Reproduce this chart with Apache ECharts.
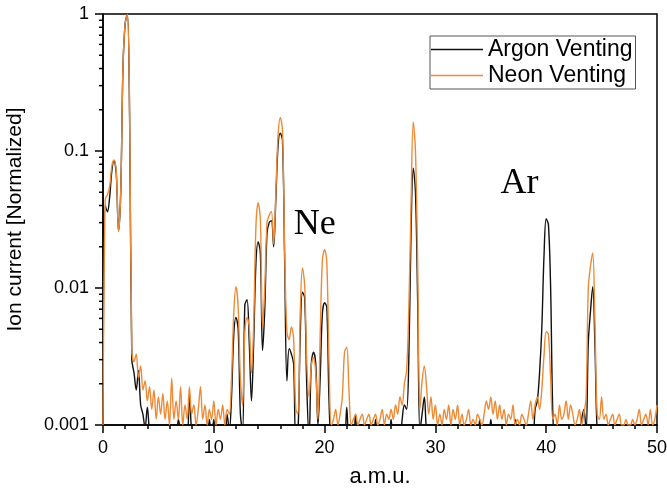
<!DOCTYPE html>
<html>
<head>
<meta charset="utf-8">
<title>Ion current vs a.m.u.</title>
<script src="https://cdn.jsdelivr.net/npm/echarts@6/dist/echarts.min.js"></script>
<style>
  html, body { margin: 0; padding: 0; background: #fff; }
  #chart { width: 667px; height: 490px; }
</style>
</head>
<body>
<div id="chart"></div>
<script>
// Mass scan sampled every 0.2 a.m.u. from 0 to 50
const AMU_STEP = 0.2;

// Normalized ion current, Argon venting (one row per a.m.u.)
const argonVenting = [
  0.001, 0.04, 0.036, 0.046, 0.072,
  0.085, 0.068, 0.026, 0.05, 0.4,
  0.85, 1.0, 0.18, 0.003, 0.0024,
  0.0018, 0.0025, 0.0014, 0.0012, 0.00095,
  0.00135, 0.0009, 0.0008, 0.0008, 0.0008,
  0.0008, 0.0008, 0.0008, 0.0008, 0.0008,
  0.0008, 0.0008, 0.0008, 0.0008, 0.0011,
  0.0009, 0.0008, 0.0008, 0.0008, 0.0017,
  0.0009, 0.0008, 0.0008, 0.0008, 0.0008,
  0.0008, 0.0008, 0.0008, 0.0011, 0.0008,
  0.0011, 0.0008, 0.0008, 0.0008, 0.0008,
  0.0008, 0.0012, 0.0009, 0.0016, 0.0045,
  0.0061, 0.005, 0.0012, 0.0009, 0.0075,
  0.0082, 0.004, 0.0015, 0.004, 0.015,
  0.0217, 0.018, 0.0035, 0.007, 0.025,
  0.03, 0.031, 0.02, 0.045, 0.11,
  0.135, 0.12, 0.015, 0.0021, 0.0036,
  0.0033, 0.0028, 0.0008, 0.0009, 0.0045,
  0.0093, 0.0085, 0.0018, 0.0008, 0.0028,
  0.0034, 0.0028, 0.001, 0.0022, 0.0065,
  0.0078, 0.0072, 0.0015, 0.0008, 0.0008,
  0.0008, 0.0008, 0.0008, 0.0008, 0.0008,
  0.00135, 0.0008, 0.0008, 0.0008, 0.0012,
  0.0008, 0.0008, 0.0008, 0.0008, 0.0008,
  0.0008, 0.0008, 0.0008, 0.0011, 0.0008,
  0.0008, 0.0008, 0.0008, 0.0008, 0.0008,
  0.0011, 0.0008, 0.0008, 0.0008, 0.0008,
  0.0011, 0.0014, 0.0013, 0.003, 0.025,
  0.075, 0.05, 0.008, 0.0009, 0.0012,
  0.0016, 0.0009, 0.0008, 0.0008, 0.0008,
  0.0008, 0.0008, 0.0008, 0.0008, 0.0008,
  0.0008, 0.0008, 0.0008, 0.0008, 0.0008,
  0.0008, 0.0008, 0.0008, 0.0008, 0.0008,
  0.0008, 0.0008, 0.0008, 0.0008, 0.0008,
  0.0011, 0.0008, 0.0008, 0.0008, 0.0008,
  0.0011, 0.0008, 0.0008, 0.0008, 0.0008,
  0.0008, 0.0008, 0.0008, 0.0008, 0.0008,
  0.0008, 0.0011, 0.0008, 0.0008, 0.0008,
  0.0008, 0.0008, 0.0008, 0.0008, 0.0008,
  0.0013, 0.0015, 0.0024, 0.005, 0.017,
  0.032, 0.029, 0.01, 0.0012, 0.0008,
  0.0008, 0.0008, 0.0008, 0.0008, 0.0008,
  0.0008, 0.0008, 0.0008, 0.0008, 0.0008,
  0.0008, 0.0011, 0.0013, 0.0009, 0.004,
  0.0068, 0.0102, 0.0038, 0.0009, 0.0008,
  0.0008, 0.0008, 0.0008, 0.0008, 0.0008,
  0.0008, 0.0008, 0.0008, 0.0008, 0.0008,
  0.0008, 0.0008, 0.0008, 0.0008, 0.0008,
  0.0008, 0.0008, 0.0008, 0.0008, 0.0008,
  0.0008, 0.0008, 0.0008, 0.0008, 0.0008,
  0.0008
];

// Normalized ion current, Neon venting (one row per a.m.u.)
const neonVenting = [
  0.001, 0.044, 0.048, 0.055, 0.078,
  0.086, 0.07, 0.026, 0.05, 0.4,
  0.85, 1.0, 0.2, 0.0035, 0.0029,
  0.0033, 0.0022, 0.0027, 0.0018, 0.0021,
  0.0015, 0.0019, 0.0013, 0.0018, 0.0011,
  0.0016, 0.0012, 0.0017, 0.0011, 0.0015,
  0.001, 0.0022, 0.0011, 0.0015, 0.0011,
  0.0019, 0.001, 0.0014, 0.0011, 0.0019,
  0.0012, 0.0014, 0.001, 0.0013, 0.0019,
  0.0011, 0.0014, 0.001, 0.0013, 0.0011,
  0.0015, 0.001, 0.0013, 0.0011, 0.0014,
  0.001, 0.0013, 0.0012, 0.0022, 0.0065,
  0.0102, 0.0072, 0.0022, 0.0014, 0.0048,
  0.0061, 0.0052, 0.0024, 0.0055, 0.028,
  0.042, 0.032, 0.0052, 0.01, 0.03,
  0.034, 0.036, 0.021, 0.05, 0.13,
  0.175, 0.14, 0.018, 0.0048, 0.0042,
  0.0052, 0.0043, 0.0013, 0.0012, 0.0065,
  0.014, 0.0105, 0.0028, 0.0016, 0.0027,
  0.0031, 0.0024, 0.0011, 0.0045, 0.016,
  0.019, 0.0155, 0.0028, 0.001, 0.0011,
  0.0013, 0.001, 0.0012, 0.0016, 0.0034,
  0.0037, 0.0018, 0.001, 0.0011, 0.0012,
  0.001, 0.0011, 0.0012, 0.001, 0.0011,
  0.0012, 0.001, 0.0011, 0.0012, 0.001,
  0.0011, 0.0013, 0.001, 0.0012, 0.0011,
  0.0013, 0.0011, 0.0014, 0.0012, 0.0016,
  0.0014, 0.002, 0.0025, 0.007, 0.04,
  0.163, 0.1, 0.015, 0.0013, 0.0021,
  0.0027, 0.0019, 0.0012, 0.0016, 0.0011,
  0.0014, 0.001, 0.0012, 0.001, 0.0013,
  0.0011, 0.0014, 0.001, 0.0013, 0.0011,
  0.0014, 0.001, 0.0012, 0.001, 0.0011,
  0.0013, 0.001, 0.0011, 0.001, 0.0012,
  0.0011, 0.001, 0.0012, 0.0015, 0.0013,
  0.0016, 0.0012, 0.0015, 0.0011, 0.0014,
  0.0011, 0.0013, 0.001, 0.0012, 0.0011,
  0.0014, 0.001, 0.0011, 0.001, 0.0012,
  0.0011, 0.001, 0.0012, 0.0015, 0.0011,
  0.0014, 0.0016, 0.0013, 0.0018, 0.0032,
  0.0048, 0.0046, 0.0022, 0.0011, 0.0012,
  0.001, 0.0014, 0.0011, 0.0012, 0.0015,
  0.0011, 0.0014, 0.0012, 0.001, 0.0011,
  0.0013, 0.001, 0.0012, 0.0016, 0.01,
  0.0145, 0.018, 0.0055, 0.0012, 0.0011,
  0.0016, 0.0011, 0.0012, 0.001, 0.0011,
  0.0012, 0.001, 0.0011, 0.0012, 0.001,
  0.001, 0.0011, 0.001, 0.001, 0.0011,
  0.001, 0.0011, 0.0013, 0.001, 0.0011,
  0.0012, 0.001, 0.0013, 0.001, 0.0011,
  0.0014
];

// Axis ranges and decade labels
const xRange = [0, 50];
const xTickStep = 10;
const yRange = [0.001, 1];
const yDecades = [0.001, 0.01, 0.1, 1];
const minorLogFactors = [2, 3, 4, 5, 6, 7, 8, 9];

// Peak annotations: [text, amu, ion current] at text centre
const peakNotes = [
  ['Ne', 19.1, 0.029],
  ['Ar', 37.6, 0.058]
];

const SANS = '"Liberation Sans", Arial, sans-serif';
const SERIF = '"Liberation Serif", "Times New Roman", serif';
const ARGON_COLOR = '#111111';
const NEON_COLOR = '#EE8A36';

const toPairs = (vals) => vals.map((v, i) => [+(i * AMU_STEP).toFixed(1), v]);

const chart = echarts.init(document.getElementById('chart'), null, { renderer: 'canvas' });

chart.setOption({
  animation: false,
  backgroundColor: '#fff',
  grid: {
    left: 103, right: 10, top: 14, bottom: 65,
    containLabel: false,
    outerBoundsMode: 'none',
    show: true,
    borderColor: '#000',
    borderWidth: 1.5,
    backgroundColor: 'transparent'
  },
  legend: {
    orient: 'vertical',
    left: 430, top: 36,
    padding: [2, 3, 2, 1],
    icon: 'rect',
    itemWidth: 52, itemHeight: 1.5, itemGap: 3,
    borderColor: '#555', borderWidth: 1,
    backgroundColor: '#fff',
    textStyle: { fontFamily: SANS, fontSize: 23, color: '#000', lineHeight: 22 },
    data: ['Argon Venting', 'Neon Venting']
  },
  xAxis: {
    type: 'value',
    min: xRange[0], max: xRange[1], interval: xTickStep,
    name: 'a.m.u.',
    nameLocation: 'middle', nameGap: 41,
    nameTextStyle: { fontFamily: SANS, fontSize: 22, color: '#000' },
    axisLine: { show: true, onZero: false, lineStyle: { color: '#000', width: 1.5 } },
    axisTick: { show: true, inside: false, length: 8, lineStyle: { color: '#000', width: 1.5 } },
    minorTick: { show: true, splitNumber: 5, length: 4, lineStyle: { color: '#000', width: 1.5 } },
    axisLabel: { fontFamily: SANS, fontSize: 18, color: '#000', margin: 14 },
    splitLine: { show: false },
    minorSplitLine: { show: false }
  },
  yAxis: {
    type: 'log', logBase: 10,
    min: yRange[0], max: yRange[1],
    name: 'Ion current [Normalized]',
    nameLocation: 'middle', nameGap: 77, nameRotate: 90,
    nameTextStyle: { fontFamily: SANS, fontSize: 21, color: '#000' },
    axisLine: { show: true, onZero: false, lineStyle: { color: '#000', width: 1.5 } },
    axisTick: { show: true, inside: false, length: 8, lineStyle: { color: '#000', width: 1.5 } },
    axisLabel: {
      fontFamily: SANS, fontSize: 18, color: '#000', margin: 14,
      formatter: (v) => {
        const hit = yDecades.find((d) => Math.abs(Math.log10(v) - Math.log10(d)) < 1e-6);
        return hit !== undefined ? String(hit) : '';
      }
    },
    splitLine: { show: false }
  },
  series: [
    {
      name: 'Argon Venting',
      type: 'line',
      data: toPairs(argonVenting),
      symbol: 'none',
      smooth: 0.35,
      clip: true,
      color: ARGON_COLOR,
      lineStyle: { color: ARGON_COLOR, width: 1.4 },
      z: 2
    },
    {
      name: 'Neon Venting',
      type: 'line',
      data: toPairs(neonVenting),
      symbol: 'none',
      smooth: 0.35,
      clip: true,
      color: NEON_COLOR,
      lineStyle: { color: NEON_COLOR, width: 1.4 },
      z: 3
    }
  ]
});

// Log minor ticks on the y axis and the peak labels, placed through the axis scales
const graphics = [];
const xLeft = chart.convertToPixel({ xAxisIndex: 0 }, xRange[0]);
yDecades.slice(0, -1).forEach((d) => {
  minorLogFactors.forEach((k) => {
    const y = chart.convertToPixel({ yAxisIndex: 0 }, k * d);
    graphics.push({
      type: 'line',
      shape: { x1: xLeft - 4, y1: y, x2: xLeft, y2: y },
      style: { stroke: '#000', lineWidth: 1.5 },
      z: 10
    });
  });
});
peakNotes.forEach(([text, amu, val]) => {
  const [px, py] = chart.convertToPixel({ xAxisIndex: 0, yAxisIndex: 0 }, [amu, val]);
  graphics.push({
    type: 'text',
    x: px, y: py,
    style: { text, font: '36px ' + SERIF, fill: '#000', align: 'center', verticalAlign: 'middle' },
    z: 10
  });
});
chart.setOption({ graphic: graphics });
</script>
</body>
</html>
